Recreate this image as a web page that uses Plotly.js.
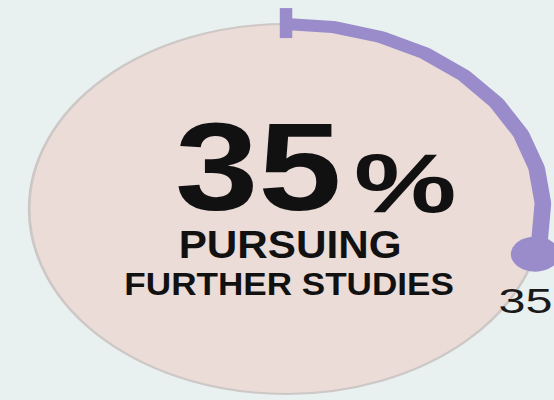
<!DOCTYPE html>
<html>
<head>
<meta charset="utf-8">
<script src="https://cdn.plot.ly/plotly-3.0.1.min.js"></script>
<style>
  html, body { margin: 0; padding: 0; width: 554px; height: 400px; overflow: hidden; background: #e9f0f0; }
  #chart { width: 399px; height: 400px; transform: scaleX(1.3885); transform-origin: 0 0; }
</style>
</head>
<body>
<div id="chart"></div>
<script>
// ---- data ----
const shareValue = [35];                 // percent pursuing further studies
const headlineLabel = ["PURSUING", "FURTHER STUDIES"];
const valueSuffix = "%";
const gaugeMax = 121;                     // dial scale (value reached at a full turn)

// ---- styles ----
const C_BG = "#e9f0f0";
const C_DISC = "#ebdcd8";
const C_ARC = "#9a8bcb";
const C_TEXT = "#111111";

const v = shareValue[0];
const sweepRad = v / gaugeMax * 2 * Math.PI;
const arcX = [], arcY = [];
const nSeg = 160;
for (let i = 0; i <= nSeg; i++) {
  const t = sweepRad * i / nSeg;
  arcX.push(Math.sin(t)); arcY.push(Math.cos(t));
}

const W = 399, H = 400, CX = 206, CY = 209, R = 185;
const px = x => x / W, py = y => 1 - y / H;

const traces = [
  { type: "scatter", mode: "lines", x: arcX, y: arcY,
    line: { color: C_ARC, width: 12 }, hoverinfo: "skip" },
  { type: "scatter", mode: "lines", x: [0, 0], y: [0.924, 1.086],
    line: { color: C_ARC, width: 9 }, hoverinfo: "skip" },
  { type: "scatter", mode: "markers", x: [Math.sin(sweepRad)], y: [Math.cos(sweepRad)],
    marker: { color: C_ARC, size: 35 }, cliponaxis: false, hoverinfo: "skip" }
];

const layout = {
  width: W, height: H,
  margin: { l: 0, r: 0, t: 0, b: 0 },
  paper_bgcolor: C_BG, plot_bgcolor: "rgba(0,0,0,0)",
  showlegend: false,
  xaxis: { visible: false, range: [-CX / R, (W - CX) / R], fixedrange: true },
  yaxis: { visible: false, range: [-(H - CY) / R, CY / R], fixedrange: true },
  shapes: [
    { type: "circle", xref: "x", yref: "y", x0: -1, x1: 1, y0: -1, y1: 1,
      fillcolor: C_DISC, line: { color: "#cdc8c6", width: 2 }, layer: "below" }
  ],
  annotations: [
    { text: String(v), x: px(186), y: py(167), xref: "paper", yref: "paper", showarrow: false,
      xanchor: "center", yanchor: "middle",
      font: { family: "Liberation Sans, Arial, sans-serif", size: 124, weight: 700, color: C_TEXT } },
    { text: valueSuffix, x: px(292), y: py(183), xref: "paper", yref: "paper", showarrow: false,
      xanchor: "center", yanchor: "middle",
      font: { family: "Liberation Sans, Arial, sans-serif", size: 83, weight: 700, color: C_TEXT } },
    { text: headlineLabel[0], x: px(209), y: py(244.5), xref: "paper", yref: "paper", showarrow: false,
      xanchor: "center", yanchor: "middle",
      font: { family: "Liberation Sans, Arial, sans-serif", size: 39, weight: 700, color: C_TEXT } },
    { text: headlineLabel[1], x: px(208), y: py(284), xref: "paper", yref: "paper", showarrow: false,
      xanchor: "center", yanchor: "middle",
      font: { family: "Liberation Sans, Arial, sans-serif", size: 32, weight: 700, color: C_TEXT } },
    { text: String(v), x: px(357), y: py(300), xref: "paper", yref: "paper", showarrow: false,
      xanchor: "left", yanchor: "middle",
      font: { family: "Liberation Sans, Arial, sans-serif", size: 35, color: "#1a1a1a" } }
  ]
};

// horizontal condensing of each label (the lettering in the reference is condensed)
const condense = [0.87, 1.0, 0.78, 0.79, 1.0];

Plotly.newPlot("chart", traces, layout, { displayModeBar: false, staticPlot: true }).then(gd => {
  gd.querySelectorAll(".annotation-text").forEach((el, i) => {
    const k = condense[i];
    if (k && k !== 1) {
      el.style.transformBox = "fill-box";
      el.style.transformOrigin = "center";
      el.style.transform = "scaleX(" + k + ")";
    }
  });
});
</script>
</body>
</html>
